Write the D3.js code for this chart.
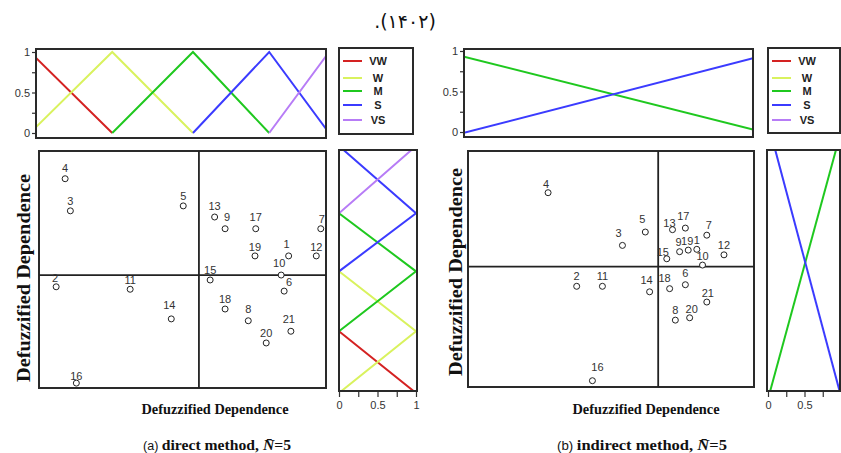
<!DOCTYPE html>
<html><head><meta charset="utf-8">
<script src="https://cdn.jsdelivr.net/npm/d3@7"></script>
<style>
html,body{margin:0;padding:0;background:#fff;}
svg{display:block;}
</style></head>
<body>
<svg id="c" width="841" height="453"></svg>
<script>
// ---------------- DATA ----------------
const pointIds = [1,2,3,4,5,6,7,8,9,10,11,12,13,14,15,16,17,18,19,20,21];
// (a) direct method
const directX = [4.46,1.35,1.54,1.47,3.05,4.40,4.89,3.92,3.61,4.36,2.34,4.83,3.47,2.89,3.41,1.62,4.02,3.61,4.01,4.16,4.49];
const directY = [3.22,2.72,3.95,4.47,4.03,2.65,3.66,2.17,3.66,2.91,2.68,3.22,3.85,2.20,2.83,1.16,3.66,2.36,3.22,1.81,2.00];
const directCross = [3.26, 2.91];
// (b) indirect method
const indirectX = [3.60,2.76,3.08,2.56,3.24,3.52,3.67,3.45,3.48,3.64,2.94,3.79,3.43,3.27,3.39,2.87,3.52,3.41,3.54,3.55,3.67];
const indirectY = [3.25,2.78,3.30,3.97,3.47,2.80,3.43,2.35,3.22,3.05,2.78,3.18,3.50,2.71,3.13,1.58,3.52,2.75,3.24,2.38,2.58];
const indirectCross = [3.33, 3.03];
// membership functions
const termNames = ["VW","W","M","S","VS"];
const termColors = ["#d42222","#d9f25e","#1fc81f","#3b3bff","#b77cf6"];
const peaksDirectX = [1, 2.1, 3.18, 4.2, 5];     // peaks along horizontal (top panel a)
const peaksDirectY = [1, 2.0, 2.97, 3.91, 5];    // peaks along vertical (side panel a)
// (b) only M and S visible, straight segments [value, membership]
const indirectTopM = [[1.97,0.93],[3.99,0.03]];
const indirectTopS = [[1.97,-0.01],[3.99,0.91]];
// side panel (b): [membership, value]
const indirectSideM = [[0.03,1.45],[0.93,4.51]];
const indirectSideS = [[0.10,4.51],[0.98,1.45]];
const muTicks = [0,0.25,0.5,0.75,1];

// ---------------- LAYOUT ----------------
const svg = d3.select("#c");
const SANS = "'Liberation Sans', Arial, sans-serif";
const SERIF = "'Liberation Serif', 'Times New Roman', serif";
const LA = {top:{x0:36,x1:326,y0:49,y1:138}, sc:{x0:39,x1:326,y0:151,y1:388}, side:{x0:339,x1:417,y0:150,y1:391}, leg:{x0:339,x1:413,y0:48,y1:134}};
const LB = {top:{x0:464,x1:753,y0:49,y1:137}, sc:{x0:468,x1:754,y0:151,y1:387}, side:{x0:767,x1:840,y0:150,y1:391}, leg:{x0:768,x1:840,y0:48,y1:133}};

const xA = d3.scaleLinear([1,5],[30,329]);
const yA = d3.scaleLinear([1,5],[393,146]);
const muTopA = d3.scaleLinear([0,1],[133,52]);
const muSideA = d3.scaleLinear([0,1],[339,416]);
const xB = d3.scaleLinear([2,4],[468,754]);
const yB = d3.scaleLinear([1.5,4.5],[387,151]);
const muTopB = d3.scaleLinear([0,1],[132,51]);
const muSideB = d3.scaleLinear([0,1],[768,841]);

const defs = svg.append("defs");
let clipN = 0;
function clipFor(b){
  const id = "clip"+(clipN++);
  defs.append("clipPath").attr("id",id).append("rect")
    .attr("x",b.x0).attr("y",b.y0).attr("width",b.x1-b.x0).attr("height",b.y1-b.y0);
  return "url(#"+id+")";
}
function frame(b, w){
  svg.append("rect").attr("x",b.x0).attr("y",b.y0).attr("width",b.x1-b.x0).attr("height",b.y1-b.y0)
    .attr("fill","none").attr("stroke","#2a2a2a").attr("stroke-width",w||2);
}
const muFmt = d => (d===0.25||d===0.75) ? "" : String(d);

function triPoints(peaks, i){
  const p = peaks[i];
  const left = i>0 ? peaks[i-1] : p - (peaks[1]-peaks[0]);
  const right = i<peaks.length-1 ? peaks[i+1] : p + (p-peaks[i-1]);
  return [[left,0],[p,1],[right,0]];
}

function styleAxis(g){
  g.select(".domain").remove();
  g.selectAll("line").attr("stroke","#333").attr("stroke-width",1.2);
  g.selectAll("text").attr("fill","#333").style("font-family",SANS).style("font-size","11px");
}

// ---------- top panels ----------
function topPanel(L, xs, ys, series){
  const cp = clipFor(L.top);
  const g = svg.append("g").attr("clip-path",cp);
  const line = d3.line().x(d=>xs(d[0])).y(d=>ys(d[1]));
  series.forEach(s=>{
    g.append("path").attr("d",line(s.pts)).attr("fill","none").attr("stroke",s.color).attr("stroke-width",2);
  });
  const ax = svg.append("g").attr("transform","translate("+L.top.x0+",0)")
    .call(d3.axisLeft(ys).tickValues(muTicks).tickFormat(muFmt).tickSize(4).tickPadding(2));
  styleAxis(ax);
  frame(L.top);
}
// ---------- side panels ----------
function sidePanel(L, ms, ys, series, ticks){
  const cp = clipFor(L.side);
  const g = svg.append("g").attr("clip-path",cp);
  const line = d3.line().x(d=>ms(d[0])).y(d=>ys(d[1]));
  series.forEach(s=>{
    g.append("path").attr("d",line(s.pts)).attr("fill","none").attr("stroke",s.color).attr("stroke-width",2);
  });
  const ax = svg.append("g").attr("transform","translate(0,"+L.side.y1+")")
    .call(d3.axisBottom(ms).tickValues(ticks).tickFormat(muFmt).tickSize(6).tickPadding(4));
  styleAxis(ax);
  frame(L.side);
}
// ---------- legend ----------
function legend(L){
  frame(L.leg);
  const offs = [13,30,43,57,72];
  termNames.forEach((t,i)=>{
    const y = L.leg.y0 + offs[i];
    svg.append("line").attr("x1",L.leg.x0+4).attr("x2",L.leg.x0+23).attr("y1",y).attr("y2",y)
      .attr("stroke",termColors[i]).attr("stroke-width",2);
    svg.append("text").attr("x",L.leg.x0+39).attr("y",y+4).attr("text-anchor","middle")
      .style("font-family",SANS).style("font-size","11px").style("font-weight","bold").attr("fill","#222").text(t);
  });
}
// ---------- scatter ----------
function scatter(L, xs, ys, X, Y, cross, nudge){
  frame(L.sc);
  svg.append("line").attr("x1",xs(cross[0])).attr("x2",xs(cross[0])).attr("y1",L.sc.y0).attr("y2",L.sc.y1)
    .attr("stroke","#222").attr("stroke-width",1.8);
  svg.append("line").attr("x1",L.sc.x0).attr("x2",L.sc.x1).attr("y1",ys(cross[1])).attr("y2",ys(cross[1]))
    .attr("stroke","#222").attr("stroke-width",1.8);
  const data = pointIds.map((id,i)=>({id, x:X[i], y:Y[i]}));
  const g = svg.append("g");
  g.selectAll("circle").data(data).join("circle")
    .attr("cx",d=>xs(d.x)).attr("cy",d=>ys(d.y)).attr("r",3)
    .attr("fill","#fff").attr("stroke","#222").attr("stroke-width",1);
  g.selectAll("text").data(data).join("text")
    .attr("x",d=>xs(d.x)+((nudge[d.id]||[0,0])[0]))
    .attr("y",d=>ys(d.y)-6+((nudge[d.id]||[0,0])[1]))
    .attr("text-anchor","middle").style("font-family",SANS).style("font-size","11px").attr("fill","#333")
    .text(d=>d.id);
}

// ---------------- DRAW (a) ----------------
topPanel(LA, xA, muTopA, termNames.map((t,i)=>({color:termColors[i], pts:triPoints(peaksDirectX,i)})));
legend(LA);
scatter(LA, xA, yA, directX, directY, directCross,
  {6:[5,1],16:[0,3],2:[-1,1],11:[0,1],12:[0,1],10:[-2,-2],4:[0,-1],9:[2,-2],17:[0,-2],19:[0,1],1:[-2,-2],7:[1,0],13:[0,-1],14:[-2,-4],8:[0,-2],21:[-2,-2]});
sidePanel(LA, muSideA, yA, termNames.map((t,i)=>({color:termColors[i], pts:triPoints(peaksDirectY,i).map(p=>[p[1],p[0]])})), muTicks);

// ---------------- DRAW (b) ----------------
topPanel(LB, d3.scaleLinear([1.97,3.99],[LB.top.x0,LB.top.x1]), muTopB, [
  {color:termColors[2], pts:indirectTopM},
  {color:termColors[3], pts:indirectTopS}]);
legend(LB);
scatter(LB, xB, yB, indirectX, indirectY, indirectCross,
  {4:[-2,1],5:[-3,-3],3:[-4,-2],13:[-3,3],17:[-2,-2],7:[2,0],9:[-1,0],19:[-1,1],1:[0,1],15:[-4,3],10:[0,1],6:[0,-2],14:[-3,-2],18:[-5,-1],21:[1,1],20:[2,1],16:[5,-4]});
sidePanel(LB, muSideB, yB, [
  {color:termColors[2], pts:indirectSideM},
  {color:termColors[3], pts:indirectSideS}], [0,0.25,0.5,0.75]);

// ---------------- TEXT ----------------
function axisTitles(cx, baseY, yx, yy){
  svg.append("text").attr("x",cx).attr("y",baseY).attr("text-anchor","middle")
    .attr("textLength",147).attr("lengthAdjust","spacingAndGlyphs")
    .style("font-family",SERIF).style("font-weight","bold").style("font-size","14px").attr("fill","#111")
    .text("Defuzzified Dependence");
  svg.append("text").attr("transform","translate("+yx+","+yy+") rotate(-90)").attr("text-anchor","middle")
    .attr("textLength",208).attr("lengthAdjust","spacingAndGlyphs")
    .style("font-family",SERIF).style("font-weight","bold").style("font-size","18.5px").attr("fill","#111")
    .text("Defuzzified Dependence");
}
axisTitles(215, 414, 30, 278);
axisTitles(646, 414, 462, 272);

function caption(x, len, letter, method){
  const t = svg.append("text").attr("x",x).attr("y",450).attr("fill","#111")
    .attr("textLength",len).attr("lengthAdjust","spacingAndGlyphs");
  t.append("tspan").style("font-family",SANS).style("font-size","12px").text("("+letter+") ");
  t.append("tspan").style("font-family",SERIF).style("font-weight","bold").style("font-size","15px").text(method+", ");
  t.append("tspan").style("font-family",SERIF).style("font-weight","bold").style("font-style","italic").style("font-size","15px").text("N\u0304");
  t.append("tspan").style("font-family",SERIF).style("font-weight","bold").style("font-size","15px").text("=5");
}
caption(143, 148, "a", "direct method");
caption(557, 170, "b", "indirect method");

svg.append("text").attr("x",405).attr("y",28).attr("text-anchor","middle").attr("direction","rtl")
  .style("font-family","'DejaVu Sans', 'Noto Sans', sans-serif").style("font-size","19px").attr("fill","#111")
  .text("(\u06F1\u06F4\u06F0\u06F2).");
</script>
</body></html>
